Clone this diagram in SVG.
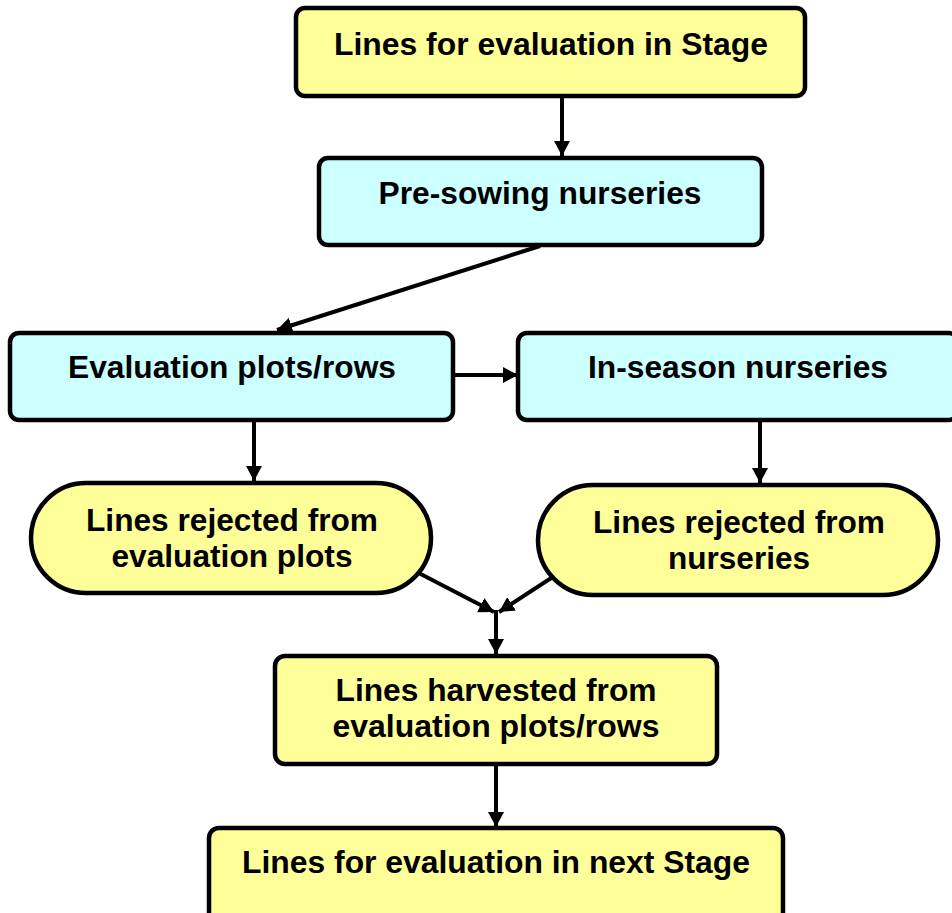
<svg xmlns="http://www.w3.org/2000/svg" width="952" height="913" viewBox="0 0 952 913">
<defs>
<style>
.y{fill:#FFFF99;stroke:#000;stroke-width:4.5}
.c{fill:#CCFFFF;stroke:#000;stroke-width:4.5}
.t{font-family:"Liberation Sans",Arial,sans-serif;font-weight:bold;font-size:31px;fill:#000;text-anchor:middle}
.e{fill:none;stroke:#000;stroke-width:4}
</style>
<marker id="ah" markerWidth="15" markerHeight="16" refX="15" refY="8" orient="auto" markerUnits="userSpaceOnUse">
<path d="M0,0 L15,8 L0,16 Z" fill="#000"/>
</marker>
</defs>
<rect width="952" height="913" fill="#fff"/>
<g id="connectors">
<line class="e" x1="562" y1="96" x2="562" y2="156" marker-end="url(#ah)"/>
<line class="e" x1="540" y1="246" x2="277" y2="330" marker-end="url(#ah)"/>
<line class="e" x1="453" y1="375" x2="518" y2="375" marker-end="url(#ah)"/>
<line class="e" x1="254" y1="421" x2="254" y2="481" marker-end="url(#ah)"/>
<line class="e" x1="760" y1="421" x2="760" y2="483" marker-end="url(#ah)"/>
<line class="e" x1="411" y1="569" x2="494" y2="612" marker-end="url(#ah)"/>
<line class="e" x1="562" y1="571" x2="499" y2="612" marker-end="url(#ah)"/>
<line class="e" x1="496" y1="610" x2="496" y2="654" marker-end="url(#ah)"/>
<line class="e" x1="496" y1="765" x2="496" y2="827" marker-end="url(#ah)"/>
</g>
<g id="n1">
<rect class="y" x="296" y="8" width="509" height="88" rx="9"/>
<text class="t" x="551" y="55" textLength="434" lengthAdjust="spacingAndGlyphs">Lines for evaluation in Stage</text>
</g>
<g id="n2">
<rect class="c" x="319" y="158" width="443" height="87" rx="9"/>
<text class="t" x="540" y="204" textLength="323" lengthAdjust="spacingAndGlyphs">Pre-sowing nurseries</text>
</g>
<g id="n3">
<rect class="c" x="10" y="333" width="443" height="87" rx="9"/>
<text class="t" x="232" y="378" textLength="328" lengthAdjust="spacingAndGlyphs">Evaluation plots/rows</text>
</g>
<g id="n4">
<rect class="c" x="518" y="333" width="440" height="87" rx="9"/>
<text class="t" x="738" y="378" textLength="300" lengthAdjust="spacingAndGlyphs">In-season nurseries</text>
</g>
<g id="n5">
<rect class="y" x="31" y="483" width="400" height="110" rx="55"/>
<text class="t" x="232" y="531" textLength="292" lengthAdjust="spacingAndGlyphs">Lines rejected from</text>
<text class="t" x="232" y="567" textLength="241" lengthAdjust="spacingAndGlyphs">evaluation plots</text>
</g>
<g id="n6">
<rect class="y" x="538" y="485" width="400" height="110" rx="55"/>
<text class="t" x="739" y="533" textLength="292" lengthAdjust="spacingAndGlyphs">Lines rejected from</text>
<text class="t" x="739" y="569" textLength="142" lengthAdjust="spacingAndGlyphs">nurseries</text>
</g>
<g id="n7">
<rect class="y" x="275" y="656" width="442" height="108" rx="10"/>
<text class="t" x="496" y="701" textLength="321" lengthAdjust="spacingAndGlyphs">Lines harvested from</text>
<text class="t" x="496" y="737" textLength="327" lengthAdjust="spacingAndGlyphs">evaluation plots/rows</text>
</g>
<g id="n8">
<rect class="y" x="209" y="828" width="574" height="100" rx="10"/>
<text class="t" x="496" y="873" textLength="508" lengthAdjust="spacingAndGlyphs">Lines for evaluation in next Stage</text>
</g>
</svg>
